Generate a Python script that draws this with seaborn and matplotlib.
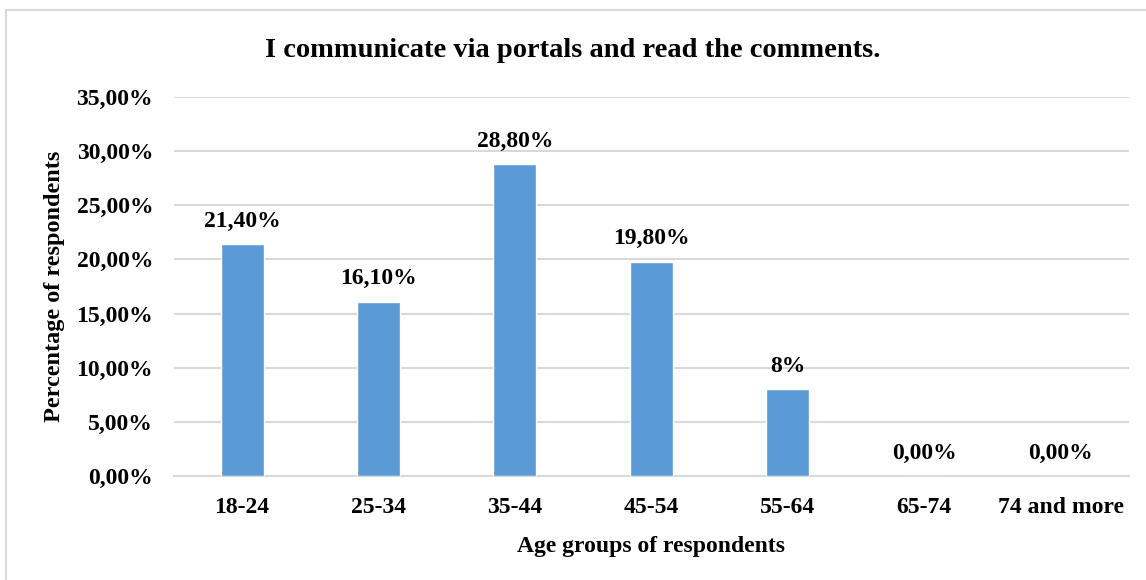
import matplotlib
matplotlib.use("Agg")
import matplotlib.pyplot as plt
from matplotlib.patches import Rectangle
from matplotlib.ticker import FuncFormatter
import seaborn as sns
import pandas as pd

age_groups = ["18-24", "25-34", "35-44", "45-54", "55-64", "65-74", "74 and more"]
shares = [21.40, 16.10, 28.80, 19.80, 8.00, 0.00, 0.00]
value_labels = ["21,40%", "16,10%", "28,80%", "19,80%", "8%", "0,00%", "0,00%"]
y_ticks = [0, 5, 10, 15, 20, 25, 30, 35]

sns.set_theme(style="white")
plt.rcParams["font.family"] = ["Liberation Serif", "DejaVu Serif"]
plt.rcParams["font.weight"] = "bold"
plt.rcParams["text.color"] = "black"
plt.rcParams["axes.labelcolor"] = "black"
plt.rcParams["xtick.color"] = "black"
plt.rcParams["ytick.color"] = "black"

df = pd.DataFrame({"group": age_groups, "share": shares})

fig = plt.figure(figsize=(11.46, 5.8), dpi=100)
ax = fig.add_axes([0.1518, 0.1793, 0.8332, 0.6535])

sns.barplot(data=df, x="group", y="share", color="#5B9BD5", saturation=1,
            width=0.315, ax=ax, zorder=3)

ax.set_ylim(0, 35)
ax.set_yticks(y_ticks)
ax.yaxis.set_major_formatter(FuncFormatter(lambda v, _: f"{v:.2f}".replace(".", ",") + "%"))
ax.grid(axis="y", color="#D9D9D9", linewidth=1.5, zorder=0)
ax.set_axisbelow(True)
for side in ["top", "right", "left"]:
    ax.spines[side].set_visible(False)
ax.spines["bottom"].set_color("#D9D9D9")
ax.spines["bottom"].set_linewidth(1.5)
ax.tick_params(axis="both", length=0, labelsize=17, labelcolor="black")
for lbl in ax.get_xticklabels() + ax.get_yticklabels():
    lbl.set_fontweight("bold")
ax.tick_params(axis="y", pad=15)
ax.tick_params(axis="x", pad=15)

for i, (v, txt) in enumerate(zip(shares, value_labels)):
    ax.annotate(txt, (i, v), xytext=(0, 9), textcoords="offset points",
                ha="center", va="bottom", fontsize=17, fontweight="bold", color="black")

ax.set_xlabel("Age groups of respondents", fontsize=17, fontweight="bold", labelpad=13,
              color="black")
ax.set_ylabel("Percentage of respondents", fontsize=17.5, fontweight="bold", labelpad=8,
              color="black")
fig.text(0.5, 0.913, "I communicate via portals and read the comments.",
         ha="center", va="center", fontsize=20.5, fontweight="bold", color="black")

fig.patches.append(Rectangle((0.005, -0.01), 1.0, 0.993, transform=fig.transFigure,
                             fill=False, edgecolor="#D9D9D9", linewidth=1.5))

fig.savefig("out.png", dpi=100)
